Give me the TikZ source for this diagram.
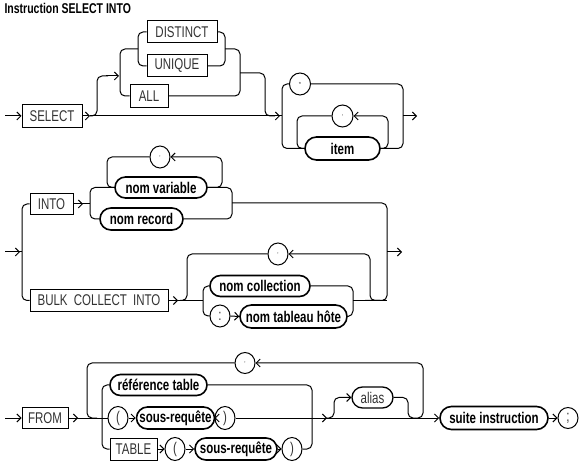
\documentclass[tikz,border=0pt]{standalone}
\usepackage{fontspec}
\setmainfont{Liberation Sans}
\usepackage{graphicx}
\usetikzlibrary{arrows.meta,shapes.misc,shapes.geometric}
\newcommand{\K}[1]{\scalebox{1}[1.35]{#1}}
\newcommand{\B}[1]{\scalebox{1}[1.35]{\bfseries #1}}
\begin{document}
\begin{tikzpicture}[x=1pt,y=-1pt,
  rail/.style={line width=1pt, rounded corners=5pt},
  arr/.style={line width=1pt, -{Straight Barb[length=4pt,width=8pt]}},
  kwbox/.style={draw, line width=1pt, rectangle, inner sep=0pt, font=\fontsize{11.5}{13}\selectfont, text=black!80},
  idbox/.style={draw, line width=1.6pt, rounded rectangle, inner sep=0pt, font=\fontsize{11.5}{13}\selectfont},
  punct/.style={draw, line width=1pt, ellipse, inner sep=0pt, minimum width=20, minimum height=22, font=\fontsize{11.5}{13}\selectfont, text=black!80},
  tinyp/.style={font=\fontsize{6}{6}\selectfont}
]
\useasboundingbox (0,0) rectangle (584,470);
\node[anchor=west, font=\fontsize{10.5}{12}\selectfont] (title) at (1,8) {\B{Instruction SELECT INTO}};

% ---------- Row 1 ----------
\node[kwbox, minimum width=60, minimum height=23] (select) at (52,116) {\K{SELECT}};
\node[kwbox, minimum width=70, minimum height=22] (distinct) at (182,32) {\K{DISTINCT}};
\node[kwbox, minimum width=60, minimum height=22] (unique) at (177,66) {\K{UNIQUE}};
\node[kwbox, minimum width=38, minimum height=23] (all) at (149,96) {\K{ALL}};
\node[punct, tinyp, minimum width=21] (star) at (300,84) {*};
\node[punct, tinyp, minimum width=21] (comma1) at (342.5,116) {,};
\node[idbox, minimum width=75, minimum height=23] (item) at (342.5,148.5) {\B{item}};

\draw[arr] (5,116) -- (select.west);
\draw[arr] (select.east) -- (90,116);
\draw[arr] (90,116) -- (280,116);
\draw[line width=1pt] (279,116) -- (282,116);
\draw[rail] (90,116) -- (97,116) -- (97,76) -- (108,76);
\draw[arr] (106,76) -- (119,76);
\draw[rail] (138,49) -- (120,49) -- (120,96) -- (all.west);
\draw[rail] (distinct.west) -- (138,32) -- (138,66) -- (unique.west);
\draw[rail] (distinct.east) -- (225,32) -- (225,66) -- (unique.east);
\draw[rail] (225,49) -- (240,49) -- (240,96) -- (all.east);
\draw[rail] (240,73) -- (265,73) -- (265,116) -- (275,116);

\draw[rail] (star.west) -- (282,84) -- (282,148.5) -- (item.west);
\draw[rail] (star.east) -- (403,84) -- (403,148.5) -- (item.east);
\draw[rail, arr] (item.east) -- (388,148.5) -- (388,116) -- (comma1.east);
\draw[rail] (comma1.west) -- (297,116) -- (297,148.5) -- (item.west);
\draw[arr] (403,116) -- (417,116);

% ---------- Row 2 ----------
\node[kwbox, minimum width=43, minimum height=21] (into) at (51.5,204) {\K{INTO}};
\node[idbox, minimum width=92, minimum height=21] (nomvar) at (161,187.5) {\B{nom variable}};
\node[idbox, minimum width=83, minimum height=22] (nomrec) at (141.5,219) {\B{nom record}};
\node[punct, tinyp] (comma2) at (160,157) {,};
\node[kwbox, minimum width=138, minimum height=22] (bulk) at (99,300.5) {\K{BULK\kern3pt{} COLLECT\kern3pt{} INTO}};
\node[punct, tinyp] (comma3) at (278,254) {,};
\node[idbox, minimum width=100, minimum height=21] (nomcoll) at (260,286) {\B{nom collection}};
\node[punct] (colon) at (220,316) {\K{:}};
\node[idbox, minimum width=107, minimum height=23] (nomtab) at (293.5,316.5) {\B{nom tableau hôte}};

\draw[arr] (5,252) -- (20,252);
\draw[line width=1pt] (19,252) -- (22,252);
\draw[rail] (into.west) -- (22,204) -- (22,300.5) -- (bulk.west);
\draw[arr] (into.east) -- (83,204);
\draw[line width=1pt] (82,204) -- (90,204);
\draw[rail] (nomvar.west) -- (90,187.5) -- (90,219) -- (nomrec.west);
\draw[rail] (comma2.west) -- (107,157) -- (107,187.5) -- (nomvar.west);
\draw[rail, arr] (nomvar.east) -- (222,187.5) -- (222,157) -- (comma2.east);
\draw[rail] (nomvar.east) -- (232,187.5) -- (232,219) -- (nomrec.east);
\draw[rail] (232,203) -- (387,203) -- (387,300.5) -- (365,300.5);
\draw[arr] (387,252) -- (402,252);

\draw[arr] (bulk.east) -- (178,300.5);
\draw[line width=1pt] (177,300.5) -- (203,300.5);
\draw[rail] (comma3.west) -- (187,254) -- (187,300.5) -- (180,300.5);
\draw[rail] (nomcoll.west) -- (203,286) -- (203,316) -- (colon.west);
\draw[arr] (colon.east) -- (nomtab.west);
\draw[rail] (nomcoll.east) -- (353,286) -- (353,316) -- (nomtab.east);
\draw[line width=1pt] (353,300.5) -- (387,300.5);
\draw[rail, arr] (380,300.5) -- (370,300.5) -- (370,254) -- (comma3.east);

% ---------- Row 3 ----------
\node[kwbox, minimum width=46, minimum height=21] (from) at (45,418) {\K{FROM}};
\node[punct, tinyp, minimum height=21] (comma4) at (245,363) {,};
\node[idbox, minimum width=97, minimum height=21] (reftab) at (158.5,385) {\B{référence table}};
\node[punct, minimum height=23] (lpar1) at (118,418) {\K{(}};
\node[idbox, minimum width=75, minimum height=22] (sq1) at (175.5,418) {\B{sous-requête}};
\node[punct, minimum height=23] (rpar1) at (225,418) {\K{)}};
\node[kwbox, minimum width=47, minimum height=22] (table) at (133.5,449) {\K{TABLE}};
\node[punct, minimum height=23] (lpar2) at (175,449) {\K{(}};
\node[idbox, minimum width=82, minimum height=22] (sq2) at (236,449) {\B{sous-requête}};
\node[punct, minimum height=23] (rpar2) at (292,449) {\K{)}};
\node[idbox, line width=1.3pt, minimum width=41, minimum height=21, font=\fontsize{11.5}{13}\selectfont, text=black!80] (alias) at (372.5,397.5) {\K{alias}};
\node[idbox, minimum width=108, minimum height=23] (suite) at (494,418) {\B{suite instruction}};
\node[punct, minimum height=21] (semi) at (568,418) {\K{;}};

\draw[arr] (5,418) -- (from.west);
\draw[arr] (from.east) -- (78,418);
\draw[line width=1pt] (77,418) -- (lpar1.west);
\draw[rail] (comma4.west) -- (87,363) -- (87,418) -- (97,418);
\draw[rail] (reftab.west) -- (102,385) -- (102,449) -- (table.west);
\draw[arr] (lpar1.east) -- (sq1.west);
\draw[arr] (sq1.east) -- (rpar1.west);
\draw[arr] (rpar1.east) -- (327,418);
\draw[rail] (reftab.east) -- (312,385) -- (312,449) -- (rpar2.east);
\draw[arr] (table.east) -- (lpar2.west);
\draw[arr] (lpar2.east) -- (sq2.west);
\draw[arr] (sq2.east) -- (rpar2.west);
\draw[arr] (326,418) -- (suite.west);
\draw[rail, arr] (327,418) -- (334,418) -- (334,397.5) -- (alias.west);
\draw[rail] (alias.east) -- (408,397.5) -- (408,418) -- (415,418);
\draw[rail, arr] (415,418) -- (423,418) -- (423,363) -- (comma4.east);
\draw[arr] (suite.east) -- (semi.west);
\end{tikzpicture}
\end{document}
